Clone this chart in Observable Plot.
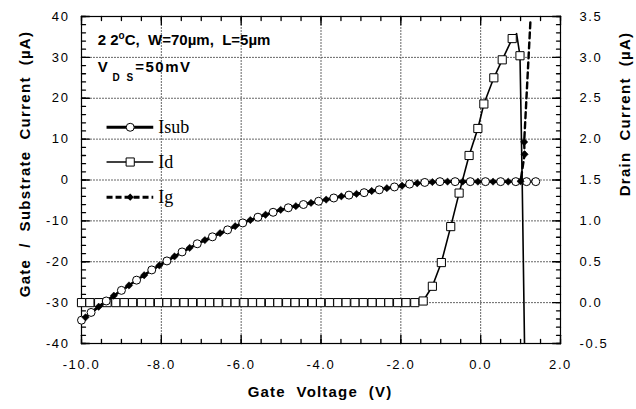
<!DOCTYPE html>
<html><head><meta charset="utf-8">
<script src="https://cdn.jsdelivr.net/npm/d3@7"></script>
<script src="https://cdn.jsdelivr.net/npm/@observablehq/plot@0.6"></script>
<style>
body{margin:0;background:#fff;}
#chart svg{display:block;}
g[aria-label="y-axis tick label"] text, g[aria-label="x-axis tick label"] text{letter-spacing:1.6px;}
</style></head><body><div id="chart"></div>
<script>
// ---- data ----
const isubX = [-10.0,-9.76,-9.38,-9.00,-8.62,-8.24,-7.86,-7.48,-7.10,-6.72,-6.34,-5.96,-5.58,-5.20,-4.82,-4.44,-4.06,-3.68,-3.30,-2.92,-2.54,-2.16,-1.78,-1.40,-1.02,-0.64,-0.26,0.12,0.50,0.88,1.15,1.38];
const isubY = [-34.3,-32.4,-29.6,-27.0,-24.5,-22.0,-19.8,-17.6,-15.6,-13.9,-12.2,-10.5,-9.1,-7.9,-6.8,-6.0,-5.2,-4.4,-3.7,-3.1,-2.4,-1.7,-1.0,-0.6,-0.4,-0.4,-0.4,-0.4,-0.4,-0.4,-0.4,-0.4];
const igX = [-9.90,-9.57,-9.19,-8.81,-8.43,-8.05,-7.67,-7.29,-6.91,-6.53,-6.15,-5.77,-5.39,-5.01,-4.63,-4.25,-3.87,-3.49,-3.11,-2.73,-2.35,-1.97,-1.59,-1.21,-0.83,-0.45,-0.07,0.31,0.69,1.00,1.10,1.09,1.25];
const igY = [-33.6,-31.0,-28.3,-25.8,-23.3,-20.9,-18.7,-16.6,-14.7,-13.0,-11.3,-9.8,-8.5,-7.3,-6.4,-5.6,-4.8,-4.0,-3.4,-2.7,-2.0,-1.4,-0.8,-0.5,-0.4,-0.4,-0.4,-0.4,-0.4,-0.3,6.3,9.3,39.5];
const idX = [-10.00,-9.79,-9.57,-9.36,-9.14,-8.93,-8.72,-8.50,-8.29,-8.07,-7.86,-7.65,-7.43,-7.22,-7.00,-6.79,-6.58,-6.36,-6.15,-5.93,-5.72,-5.51,-5.29,-5.08,-4.86,-4.65,-4.44,-4.22,-4.01,-3.79,-3.58,-3.37,-3.15,-2.94,-2.72,-2.51,-2.30,-2.08,-1.87,-1.65,-1.44,-1.21,-0.985,-0.75,-0.54,-0.29,-0.07,0.08,0.33,0.54,0.79,0.985];
const idY = [0,0,0,0,0,0,0,0,0,0,0,0,0,0,0,0,0,0,0,0,0,0,0,0,0,0,0,0,0,0,0,0,0,0,0,0,0,0,0,0,0.02,0.20,0.49,0.93,1.34,1.80,2.13,2.43,2.75,2.97,3.23,3.02];
const idPeakX = [0.90], idPeakY = [3.29];
const idTailX = [1.04, 1.10], idTailY = [1.49, -0.55];

const xTicks = [-10, -8, -6, -4, -2, 0, 2];
const leftTicks = [-40, -30, -20, -10, 0, 10, 20, 30, 40];
const rightTicks = [-0.5, 0.0, 0.5, 1.0, 1.5, 2.0, 2.5, 3.0, 3.5];
const legendLabels = ["Isub", "Id", "Ig"];
const legendY = [12.9, 4.4, -4.2];
const xTitle = "Gate  Voltage  (V)";
const yTitle = "Gate  /  Substrate  Current  (\u00b5A)";
const y2Title = "Drain  Current  (\u00b5A)";

// right axis (Id, µA) mapped onto the left scale: -0.5..3.5 -> -40..40
const toLeft = v => -30 + 20 * v;
const fromLeft = v => (v + 30) / 20;

const isub = isubX.map((x, i) => ({x, y: isubY[i]}));
const ig = igX.map((x, i) => ({x, y: igY[i]}));
const idPts = idX.map((x, i) => ({x, y: toLeft(idY[i])}));
const idLine = [
  ...idPts.slice(0, -1),
  {x: idPeakX[0], y: toLeft(idPeakY[0])},
  idPts[idPts.length - 1],
  ...idTailX.map((x, i) => ({x, y: toLeft(idTailY[i])}))
];
const legend = legendLabels.map((label, i) => ({label, y: legendY[i], x1: -9.36, x2: -8.19, xm: -8.78, xt: -8.08}));

const xMinor = d3.range(-10, 2.001, 0.5);
const yMinor = d3.range(-40, 40.001, 2);
const rightMajor = rightTicks.map(toLeft);
// grid / tick segments as two-point polylines (tick lengths in data units: x 0.1 ≈ 4px, y 1 ≈ 4px)
let segId = 0;
const vSeg = (data, ya, yb) => data.flatMap(v => { const k = segId++; return [{k, x: v, y: ya}, {k, x: v, y: yb}]; });
const hSeg = (data, xa, xb) => data.flatMap(v => { const k = segId++; return [{k, x: xa, y: v}, {k, x: xb, y: v}]; });
const gridPts = [...vSeg(xTicks.slice(1, -1), -40, 40), ...hSeg(leftTicks.slice(1, -1), -10, 2)];
const tickPts = [
  ...vSeg(xMinor, -40, -39), ...vSeg(xTicks, -40, -38), ...vSeg(xMinor, 40, 39), ...vSeg(xTicks, 40, 38),
  ...hSeg(yMinor, -10, -9.9), ...hSeg(leftTicks, -10, -9.8), ...hSeg(yMinor, 2, 1.9), ...hSeg(rightMajor, 2, 1.8)
];

const plot = Plot.plot({
  width: 636, height: 409,
  marginLeft: 81, marginRight: 76, marginTop: 16, marginBottom: 66,
  x: {domain: [-10, 2]},
  y: {domain: [-40, 40]},
  style: {fontFamily: "'Liberation Sans', Arial, sans-serif", fontSize: "13px"},
  marks: [
    // dotted grid and inward ticks
    Plot.line(gridPts, {x: "x", y: "y", z: "k", stroke: "#555", strokeWidth: 1, strokeDasharray: "1,2"}),
    Plot.line(tickPts, {x: "x", y: "y", z: "k", stroke: "#000", strokeWidth: 1.3}),
    // tick labels
    Plot.axisX(xTicks, {anchor: "bottom", tickSize: 0, tickPadding: 16, label: null, tickFormat: d => d.toFixed(1), fontSize: 13}),
    Plot.axisY(leftTicks, {anchor: "left", tickSize: 0, tickPadding: 12, label: null, tickFormat: d => String(d), fontSize: 13}),
    Plot.axisY(rightMajor, {anchor: "right", tickSize: 0, tickPadding: 19, label: null, tickFormat: d => fromLeft(d).toFixed(1), fontSize: 13}),
    Plot.frame({stroke: "#000", strokeWidth: 1.2}),
    // data
    Plot.line(idLine, {x: "x", y: "y", stroke: "#000", strokeWidth: 1.6, clip: true}),
    Plot.dot(idPts, {x: "x", y: "y", symbol: "square", r: 4.6, fill: "#fff", stroke: "#000", strokeWidth: 1}),
    Plot.line(ig, {x: "x", y: "y", stroke: "#000", strokeWidth: 2.4, strokeDasharray: "6,4", clip: true}),
    Plot.line(isub, {x: "x", y: "y", stroke: "#000", strokeWidth: 2.4}),
    Plot.dot(isub, {x: "x", y: "y", r: 4, fill: "#fff", stroke: "#000", strokeWidth: 1}),
    Plot.dot(ig.slice(0, -1), {x: "x", y: "y", symbol: "diamond2", r: 3.3, fill: "#000", stroke: "#000", strokeWidth: 0.5}),
    // legend
    Plot.ruleY([legend[0]], {y: "y", x1: "x1", x2: "x2", stroke: "#000", strokeWidth: 3}),
    Plot.ruleY([legend[1]], {y: "y", x1: "x1", x2: "x2", stroke: "#000", strokeWidth: 1.6}),
    Plot.ruleY([legend[2]], {y: "y", x1: "x1", x2: "x2", stroke: "#000", strokeWidth: 3, strokeDasharray: "6,3"}),
    Plot.dot([legend[0]], {x: "xm", y: "y", r: 4, fill: "#fff", stroke: "#000", strokeWidth: 1}),
    Plot.dot([legend[1]], {x: "xm", y: "y", symbol: "square", r: 4.6, fill: "#fff", stroke: "#000", strokeWidth: 1}),
    Plot.dot([legend[2]], {x: "xm", y: "y", symbol: "diamond2", r: 3.3, fill: "#000"}),
    Plot.text(legend, {x: "xt", y: "y", text: "label", textAnchor: "start", fontFamily: "'Liberation Serif', 'Times New Roman', serif", fontSize: 18, fill: "#000"})
  ]
});
document.getElementById("chart").appendChild(plot);

// titles and annotation
const svg = d3.select(plot);
const sx = plot.scale("x"), sy = plot.scale("y");
const bold = "bold 15px 'Liberation Sans', Arial, sans-serif";
svg.append("text").attr("x", 320).attr("y", 397).attr("text-anchor", "middle")
  .style("font", bold).style("white-space", "pre").style("letter-spacing", "1.2px").attr("fill", "#000").text(xTitle);
svg.append("text").attr("transform", "translate(26,164) rotate(-90)").attr("text-anchor", "middle").attr("dominant-baseline", "middle")
  .style("font", bold).style("white-space", "pre").style("letter-spacing", "1.3px").attr("fill", "#000").text(yTitle);
svg.append("text").attr("transform", "translate(626,114) rotate(-90)").attr("text-anchor", "middle").attr("dominant-baseline", "middle")
  .style("font", bold).style("white-space", "pre").style("letter-spacing", "1.3px").attr("fill", "#000").text(y2Title);

const ann1 = svg.append("text").attr("x", sx.apply(-9.58)).attr("y", sy.apply(32.8)).attr("text-anchor", "start")
  .style("font", "bold 15px 'Liberation Sans', Arial, sans-serif").style("white-space", "pre").attr("fill", "#000");
ann1.append("tspan").text("2 2");
ann1.append("tspan").attr("dy", -6).style("font-size", "10px").text("o");
ann1.append("tspan").attr("dy", 6).text("C,  W=70\u00b5m,  L=5\u00b5m");
const ann2 = svg.append("text").attr("x", sx.apply(-9.58)).attr("y", sy.apply(26.2)).attr("text-anchor", "start")
  .style("font", "bold 15px 'Liberation Sans', Arial, sans-serif").style("white-space", "pre").attr("fill", "#000");
ann2.append("tspan").text("V");
ann2.append("tspan").attr("dy", 9).style("font-size", "10px").style("letter-spacing", "2px").text(" D S");
ann2.append("tspan").attr("dy", -9).style("letter-spacing", "1.5px").text("=50mV");
</script></body></html>
